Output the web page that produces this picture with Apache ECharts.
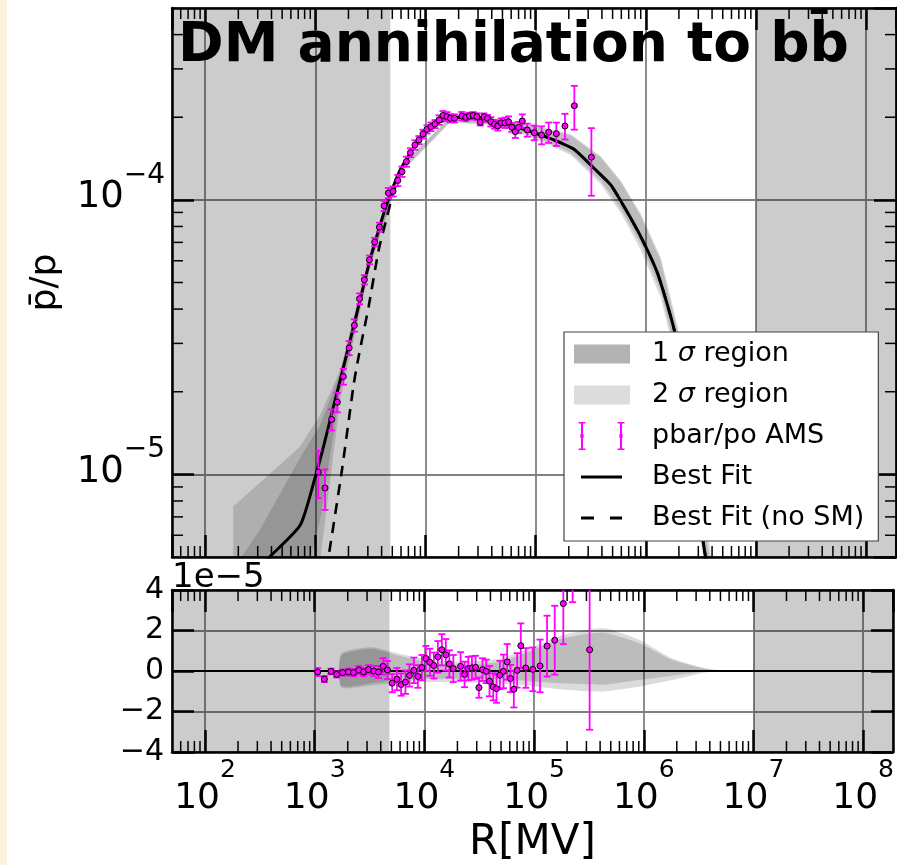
<!DOCTYPE html>
<html>
<head>
<meta charset="utf-8">
<script src="https://cdn.jsdelivr.net/npm/echarts@6.0.0/dist/echarts.min.js"></script>
<style>
  html, body { margin: 0; padding: 0; background: #fff; }
  #main { width: 897px; height: 865px; }
</style>
</head>
<body>
<div id="main"></div>
<script>
// AMS pbar/p points, rigidity in MV
const amsR = [1065, 1225, 1407, 1585, 1797, 2029, 2262, 2522, 2789, 3097, 3460, 3817, 4213, 4609, 5086, 5612, 6128, 6719, 7305, 8027,
  8727, 9490, 10318, 11220, 12199, 13267, 14425, 15683, 16877, 18346, 21380, 23246, 25119, 27143, 29271, 31433, 33884, 36608, 39234, 42394,
  45430, 48764, 52600, 56826, 60895, 65390, 70059, 75700, 84045, 97320, 113390, 131300, 154240, 184700, 224800, 320900];
const amsRatio = [1.019e-5, 8.92e-6, 1.585e-5, 1.832e-5, 2.272e-5, 2.888e-5, 3.49e-5, 4.365e-5, 5.117e-5, 6.05e-5, 7.017e-5, 7.957e-5, 9.51e-5, 1.06e-4, 1.074e-4, 1.177e-4, 1.267e-4, 1.378e-4, 1.486e-4, 1.585e-4,
  1.652e-4, 1.738e-4, 1.807e-4, 1.847e-4, 1.889e-4, 1.954e-4, 2.03e-4, 2.01e-4, 1.982e-4, 1.982e-4, 2.02e-4, 1.998e-4, 2.02e-4, 2.03e-4, 2.01e-4, 1.916e-4, 2.009e-4, 1.982e-4, 1.926e-4, 1.884e-4,
  1.858e-4, 1.91e-4, 1.91e-4, 1.926e-4, 1.838e-4, 1.771e-4, 1.838e-4, 1.938e-4, 1.797e-4, 1.757e-4, 1.723e-4, 1.763e-4, 1.742e-4, 1.858e-4, 2.202e-4, 1.43e-4];
// errors and residuals in units of 1e-5
const amsErr = [0.2, 0.15, 0.14, 0.15, 0.15, 0.17, 0.18, 0.2, 0.2, 0.22, 0.25, 0.3, 0.4, 0.45, 0.45, 0.55, 0.55, 0.58, 0.55, 0.63,
  0.56, 0.62, 0.62, 0.67, 0.64, 0.78, 0.77, 0.78, 0.67, 0.67, 0.7, 0.63, 0.58, 0.58, 0.57, 0.5, 0.56, 0.58, 0.75, 0.67,
  0.7, 0.7, 0.83, 0.88, 0.67, 0.9, 0.85, 1.1, 0.98, 1.08, 1.3, 1.5, 1.7, 2.0, 4.0, 3.95];
const amsResid = [-0.05, -0.4, -0.02, -0.17, -0.08, -0.05, -0.08, 0.05, -0.05, 0.07, 0, -0.05, 0.23, 0.05, -0.6, -0.4, -0.67, -0.55, -0.22, 0.03,
  -0.27, 0.17, 0.62, 0.43, 0.27, 0.7, 1.05, 0.8, 0.35, 0.12, 0.23, -0.17, 0.12, 0.15, 0.18, -0.82, 0.07, -0.02, -0.5, -0.78,
  -0.87, -0.2, -0.02, 0.45, -0.37, -0.9, 0.03, 1.25, 0.15, 0.08, 0.25, 1.23, 1.52, 3.33, 7.4, 1.05];

// best fit curves
const fitR = [208.1, 389.9, 730.5, 985.4, 1190, 1418, 1688, 2229, 3052, 3763, 4485, 5149, 5926, 7826, 9650, 13689, 19420, 29512, 44853, 63490,
  96500, 146700, 222900, 338800, 480800, 634900, 900500, 1277500, 1808800, 2565400, 3297700, 4065100];
const fitVal = [3.88e-6, 5.03e-6, 6.54e-6, 9.59e-6, 1.268e-5, 1.681e-5, 2.216e-5, 3.462e-5, 5.8e-5, 7.78e-5, 9.75e-5, 1.13e-4, 1.29e-4, 1.55e-4, 1.748e-4, 1.926e-4, 1.998e-4, 1.998e-4, 1.926e-4, 1.858e-4,
  1.757e-4, 1.653e-4, 1.529e-4, 1.304e-4, 1.134e-4, 9.45e-5, 7.35e-5, 5.41e-5, 3.37e-5, 1.585e-5, 5.8e-6, 3.51e-6];
const noSmR = [1182, 1321, 1749, 2229, 2475, 3052, 3763, 4485, 4981, 5926, 7826, 9650, 13689, 19420, 29512, 44853, 63490,
  96500, 146700, 222900, 338800, 480800, 634900, 900500, 1277500, 1808800, 2565400, 3297700, 4065100];
const noSmVal = [3.82e-6, 5.03e-6, 1.043e-5, 2.125e-5, 2.69e-5, 4.09e-5, 6.58e-5, 8.7e-5, 1.028e-4, 1.26e-4, 1.55e-4, 1.748e-4, 1.926e-4, 1.998e-4, 1.998e-4, 1.926e-4, 1.858e-4,
  1.757e-4, 1.653e-4, 1.529e-4, 1.304e-4, 1.134e-4, 9.45e-5, 7.35e-5, 5.41e-5, 3.37e-5, 1.585e-5, 5.8e-6, 3.51e-6];

// uncertainty bands, top panel
const bandR = [179.7, 316.2, 730.5, 1110, 1688, 3162, 5926, 16877, 48070, 111050, 208100, 389900, 592600, 900500, 1368900, 2080900, 3162300, 4806000];
const sig2Hi = [7.65e-6, 9.35e-6, 1.264e-5, 1.653e-5, 2.409e-5, 6.47e-5, 1.33e-4, 2.015e-4, 1.973e-4, 1.846e-4, 1.736e-4, 1.443e-4, 1.176e-4, 8.9e-5, 6.19e-5, 3.11e-5, 8.8e-6, 3.0e-6];
const sig1Hi = [4.51e-6, 6.31e-6, 1.153e-5, 1.52e-5, 2.349e-5, 6.36e-5, 1.32e-4, 2.0e-4, 1.958e-4, 1.83e-4, 1.716e-4, 1.43e-4, 1.161e-4, 8.75e-5, 5.99e-5, 2.96e-5, 7.8e-6, 2.8e-6];
const sig1Lo = [1.8e-6, 2.31e-6, 3.51e-6, 6.86e-6, 2.037e-5, 5.95e-5, 1.26e-4, 1.933e-4, 1.873e-4, 1.663e-4, 1.486e-4, 1.173e-4, 9.26e-5, 6.9e-5, 4.64e-5, 2.36e-5, 6.0e-6, 2.4e-6];
const sig2Lo = [1.52e-6, 1.95e-6, 2.73e-6, 4.91e-6, 1.874e-5, 5.754e-5, 1.245e-4, 1.915e-4, 1.853e-4, 1.638e-4, 1.456e-4, 1.14e-4, 8.96e-5, 6.57e-5, 4.39e-5, 2.21e-5, 5.6e-6, 2.2e-6];

// uncertainty bands, residual panel (1e-5)
const resBandR = [1749, 3298, 5926, 11100, 22150, 48070, 90060, 168800, 316200, 451200, 900500, 1797100, 3661000, 5337000, 8111000];
const res1Hi = [0.77, 1.1, 0.75, 0.4, 0.3, 0.45, 0.95, 1.55, 1.85, 1.88, 1.38, 0.55, 0.1, 0.02, 0];
const res1Lo = [-0.73, -0.6, -0.45, -0.4, -0.37, -0.4, -0.5, -0.6, -0.65, -0.67, -0.45, -0.23, -0.03, -0.01, 0];
const res2Hi = [0.85, 1.17, 0.85, 0.55, 0.45, 0.6, 1.1, 1.72, 2.05, 2.1, 1.55, 0.63, 0.13, 0.03, 0];
const res2Lo = [-0.8, -0.7, -0.55, -0.55, -0.55, -0.6, -0.73, -0.9, -1.0, -1.0, -0.78, -0.45, -0.07, -0.02, 0];

// grey excluded ranges
const shadeFrom = [50, 1e7];
const shadeTo = [4800, 1.87e8];

const xMin = 50, xMax = 1.87e8, yMin = 5e-6, yMax = 5e-4;
const FF = 'DejaVu Sans';

const xMinor = [];
for (let d = 1; d <= 8; d++) for (let k = 2; k <= 9; k++) {
  const v = k * Math.pow(10, d);
  if (v > xMin && v < xMax) xMinor.push(v);
}
const yMinor = [];
for (let d = -6; d <= -4; d++) for (let k = 2; k <= 9; k++) {
  const v = k * Math.pow(10, d);
  if (v > yMin && v < yMax) yMinor.push(v);
}

function powLabel(v) {
  const e = Math.round(Math.log10(v));
  return '{b|10}{e|' + (e < 0 ? '\u2212' + (-e) : e) + '}';
}

const chart = echarts.init(document.getElementById('main'));

const frame = { show: true, onZero: false, lineStyle: { color: '#000', width: 2.5 } };
const majorTick = { show: true, inside: true, length: 22, lineStyle: { color: '#000', width: 2.5 } };
const grid = { show: true, lineStyle: { color: '#808080', width: 1.8 } };

function logX(gi, pos, extra) {
  return Object.assign({
    type: 'log', logBase: 10, gridIndex: gi, position: pos, min: xMin, max: xMax,
    axisLine: frame, axisTick: majorTick, splitLine: { show: false }, axisLabel: { show: false }
  }, extra || {});
}

function shadeSeries(xi, yi, yRef) {
  return {
    type: 'custom', xAxisIndex: xi, yAxisIndex: yi, z: 1, silent: true, clip: true,
    data: shadeFrom.map((f, i) => [f, shadeTo[i]]),
    renderItem: (params, api) => {
      const cs = params.coordSys;
      const a = api.coord([api.value(0), yRef])[0];
      const b = api.coord([api.value(1), yRef])[0];
      const x0 = Math.max(a, cs.x), x1 = Math.min(b, cs.x + cs.width);
      return { type: 'rect', shape: { x: x0, y: cs.y, width: x1 - x0, height: cs.height },
        style: { fill: 'rgba(0,0,0,0.2)' } };
    }
  };
}

function bandSeries(name, xi, yi, xs, lo, hi, z, smooth, extra) {
  return Object.assign({
    name: name, type: 'custom', xAxisIndex: xi, yAxisIndex: yi, z: z, silent: true, clip: true,
    itemStyle: { color: 'rgba(0,0,0,0.14)' },
    data: [[xs[0], hi[0]]],
    renderItem: (params, api) => {
      const pts = [];
      for (let i = 0; i < xs.length; i++) pts.push(api.coord([xs[i], hi[i]]));
      for (let i = xs.length - 1; i >= 0; i--) pts.push(api.coord([xs[i], lo[i]]));
      return { type: 'polygon', shape: { points: pts, smooth: smooth }, style: { fill: 'rgba(0,0,0,0.14)' } };
    }
  }, extra || {});
}

function errSeries(name, xi, yi, data) {
  return {
    name: name, type: 'custom', xAxisIndex: xi, yAxisIndex: yi, z: 5, clip: true,
    itemStyle: { color: '#ff00ff' },
    data: data,
    renderItem: (params, api) => {
      const x = api.value(0), y = api.value(1), e = api.value(2);
      const t = api.coord([x, y + e]), b = api.coord([x, y - e]);
      const st = { stroke: '#ff00ff', lineWidth: 1.8 };
      return { type: 'group', children: [
        { type: 'line', shape: { x1: t[0], y1: t[1], x2: b[0], y2: b[1] }, style: st },
        { type: 'line', shape: { x1: t[0] - 3.5, y1: t[1], x2: t[0] + 3.5, y2: t[1] }, style: st },
        { type: 'line', shape: { x1: b[0] - 3.5, y1: b[1], x2: b[0] + 3.5, y2: b[1] }, style: st }
      ] };
    }
  };
}

function pointSeries(name, xi, yi, data) {
  return {
    name: name, type: 'scatter', xAxisIndex: xi, yAxisIndex: yi, z: 6, clip: true,
    symbol: 'circle', symbolSize: 6,
    itemStyle: { color: '#ff00ff', borderColor: '#000', borderWidth: 1, opacity: 1 },
    data: data
  };
}

function xMinorSeries(xi, yi, yRef) {
  return {
    type: 'custom', xAxisIndex: xi, yAxisIndex: yi, z: 7, silent: true,
    data: xMinor.map(v => [v, yRef]),
    renderItem: (params, api) => {
      const cs = params.coordSys;
      const px = api.coord([api.value(0), yRef])[0];
      const st = { stroke: '#000', lineWidth: 1.5 };
      const yb = cs.y + cs.height;
      return { type: 'group', children: [
        { type: 'line', shape: { x1: px, y1: yb, x2: px, y2: yb - 11 }, style: st },
        { type: 'line', shape: { x1: px, y1: cs.y, x2: px, y2: cs.y + 11 }, style: st }
      ] };
    }
  };
}

function yMinorSeries(xi, yi, xRef) {
  return {
    type: 'custom', xAxisIndex: xi, yAxisIndex: yi, z: 7, silent: true,
    data: yMinor.map(v => [xRef, v]),
    renderItem: (params, api) => {
      const cs = params.coordSys;
      const py = api.coord([xRef, api.value(1)])[1];
      const st = { stroke: '#000', lineWidth: 1.5 };
      const xr = cs.x + cs.width;
      return { type: 'group', children: [
        { type: 'line', shape: { x1: cs.x, y1: py, x2: cs.x + 11, y2: py }, style: st },
        { type: 'line', shape: { x1: xr, y1: py, x2: xr - 11, y2: py }, style: st }
      ] };
    }
  };
}

const topErr = amsR.map((r, i) => [r, amsRatio[i], amsErr[i] * 1e-5]);
const topPts = amsR.map((r, i) => [r, amsRatio[i]]);
const botErr = amsR.map((r, i) => [r, amsResid[i], amsErr[i]]);
const botPts = amsR.map((r, i) => [r, amsResid[i]]);

// legend icons: tiny corner dots pin the icon box to 56 x 28
const pin = 'M0,0h0.01v0.01h-0.01zM55.99,27.99h0.01v0.01h-0.01z';
const iconRect = 'path://' + pin + 'M0,4.5h56v19h-56z';
const iconErr = 'path://' + pin + 'M7,0h2v28h-2zM4.5,0h7v1.6h-7zM4.5,26.4h7v1.6h-7zM6.3,12.3h3.4v3.4h-3.4z' +
  'M46,0h2v28h-2zM43.5,0h7v1.6h-7zM43.5,26.4h7v1.6h-7zM45.3,12.3h3.4v3.4h-3.4z';
const iconLine = 'path://' + pin + 'M7,12.5h41v3h-41z';
const iconDash = 'path://' + pin + 'M7,12.5h13v3h-13zM36,12.5h12v3h-12z';

const option = {
  animation: false,
  backgroundColor: '#fff',
  textStyle: { fontFamily: FF, color: '#000' },
  grid: [
    { left: 172, top: 8, width: 724, height: 549 },
    { left: 172, top: 590, width: 724, height: 162 }
  ],
  xAxis: [
    logX(0, 'bottom', { splitLine: grid }),
    logX(0, 'top'),
    logX(1, 'bottom', {
      splitLine: grid,
      name: 'R[MV]', nameLocation: 'middle', nameGap: 70,
      nameTextStyle: { fontSize: 42, fontFamily: FF, color: '#000' },
      axisLabel: {
        show: true, margin: 6, showMinLabel: false, showMaxLabel: false,
        formatter: powLabel,
        rich: {
          b: { fontSize: 36, fontFamily: FF, color: '#000', verticalAlign: 'bottom' },
          e: { fontSize: 25, fontFamily: FF, color: '#000', verticalAlign: 'top', padding: [0, 0, 34, 0] }
        }
      }
    }),
    logX(1, 'top')
  ],
  yAxis: [
    {
      type: 'log', logBase: 10, gridIndex: 0, position: 'left', min: yMin, max: yMax,
      axisLine: frame, axisTick: majorTick, splitLine: grid,
      name: 'p\u0304/p', nameLocation: 'middle', nameGap: 108, nameRotate: 90,
      nameTextStyle: { fontSize: 36, fontFamily: FF, color: '#000' },
      axisLabel: {
        show: true, margin: 7, showMinLabel: false, showMaxLabel: false,
        formatter: powLabel, padding: [0, 0, 22, 0],
        rich: {
          b: { fontSize: 37, fontFamily: FF, color: '#000', verticalAlign: 'bottom' },
          e: { fontSize: 28, fontFamily: FF, color: '#000', verticalAlign: 'top', padding: [0, 0, 27, 0] }
        }
      }
    },
    {
      type: 'log', logBase: 10, gridIndex: 0, position: 'right', min: yMin, max: yMax,
      axisLine: frame, axisTick: majorTick, splitLine: { show: false }, axisLabel: { show: false }
    },
    {
      type: 'value', gridIndex: 1, position: 'left', min: -4, max: 4, interval: 2,
      axisLine: frame, axisTick: majorTick, splitLine: grid,
      axisLabel: {
        show: true, margin: 8, fontSize: 30, fontFamily: FF, color: '#000',
        formatter: v => (v < 0 ? '\u2212' + (-v) : '' + v)
      }
    },
    {
      type: 'value', gridIndex: 1, position: 'right', min: -4, max: 4, interval: 2,
      axisLine: frame, axisTick: majorTick, splitLine: { show: false }, axisLabel: { show: false }
    }
  ],
  legend: {
    orient: 'vertical', left: 564, top: 332, z: 10,
    padding: [8, 14, 9, 10], itemWidth: 56, itemHeight: 28, itemGap: 13,
    backgroundColor: '#fff', borderColor: '#444', borderWidth: 1.2, borderRadius: 0,
    textStyle: { fontSize: 27, fontFamily: FF, color: '#000', padding: [0, 0, 0, 17],
      rich: { i: { fontSize: 27, fontFamily: FF, fontStyle: 'italic', color: '#000' } } },
    formatter: n => n.replace('\u03c3', '{i|\u03c3}'),
    data: [
      { name: '1 \u03c3 region', icon: iconRect, itemStyle: { color: '#b3b3b3' } },
      { name: '2 \u03c3 region', icon: iconRect, itemStyle: { color: '#dcdcdc' } },
      { name: 'pbar/po AMS', icon: iconErr, itemStyle: { color: '#ff00ff' } },
      { name: 'Best Fit', icon: iconLine, itemStyle: { color: '#000' } },
      { name: 'Best Fit (no SM)', icon: iconDash, itemStyle: { color: '#000' } }
    ]
  },
  graphic: [
    { type: 'rect', left: 0, top: 0, z: 0, shape: { width: 7, height: 865 }, style: { fill: '#fdf2dc' } },
    { type: 'text', left: 178, top: 19, z: 20,
      style: { text: 'DM annihilation to bb\u0304', fontSize: 55, fontWeight: 'bold', fontFamily: FF, fill: '#000' } },
    { type: 'text', left: 172, top: 561, z: 20,
      style: { text: '1e\u22125', fontSize: 34, fontFamily: FF, fill: '#000' } }
  ],
  series: [
    shadeSeries(0, 0, 1e-4),
    bandSeries('2 \u03c3 region', 0, 0, bandR, sig2Lo, sig2Hi, 2, 0),
    bandSeries('1 \u03c3 region', 0, 0, bandR, sig1Lo, sig1Hi, 2, 0),
    {
      name: 'Best Fit (no SM)', type: 'line', xAxisIndex: 0, yAxisIndex: 0, z: 3,
      symbol: 'none', clip: true, smooth: 0.2,
      lineStyle: { color: '#000', width: 2.6, type: [11, 8] }, itemStyle: { color: '#000' },
      data: noSmR.map((r, i) => [r, noSmVal[i]])
    },
    {
      name: 'Best Fit', type: 'line', xAxisIndex: 0, yAxisIndex: 0, z: 4,
      symbol: 'none', clip: true, smooth: 0.2,
      lineStyle: { color: '#000', width: 3 }, itemStyle: { color: '#000' },
      data: fitR.map((r, i) => [r, fitVal[i]])
    },
    errSeries('pbar/po AMS', 0, 0, topErr),
    pointSeries('ams points', 0, 0, topPts),
    xMinorSeries(0, 0, 1e-4),
    yMinorSeries(0, 0, 1000),

    shadeSeries(2, 2, 0),
    bandSeries('res 2 sigma', 2, 2, resBandR, res2Lo, res2Hi, 2, 0.2),
    bandSeries('res 1 sigma', 2, 2, resBandR, res1Lo, res1Hi, 2, 0.2, {
      markLine: { silent: true, symbol: 'none', label: { show: false },
        lineStyle: { color: '#000', width: 2, type: 'solid' }, data: [{ yAxis: 0 }] }
    }),
    errSeries('res err', 2, 2, botErr),
    pointSeries('res points', 2, 2, botPts),
    xMinorSeries(2, 2, 0)
  ]
};

chart.setOption(option);
</script>
</body>
</html>
